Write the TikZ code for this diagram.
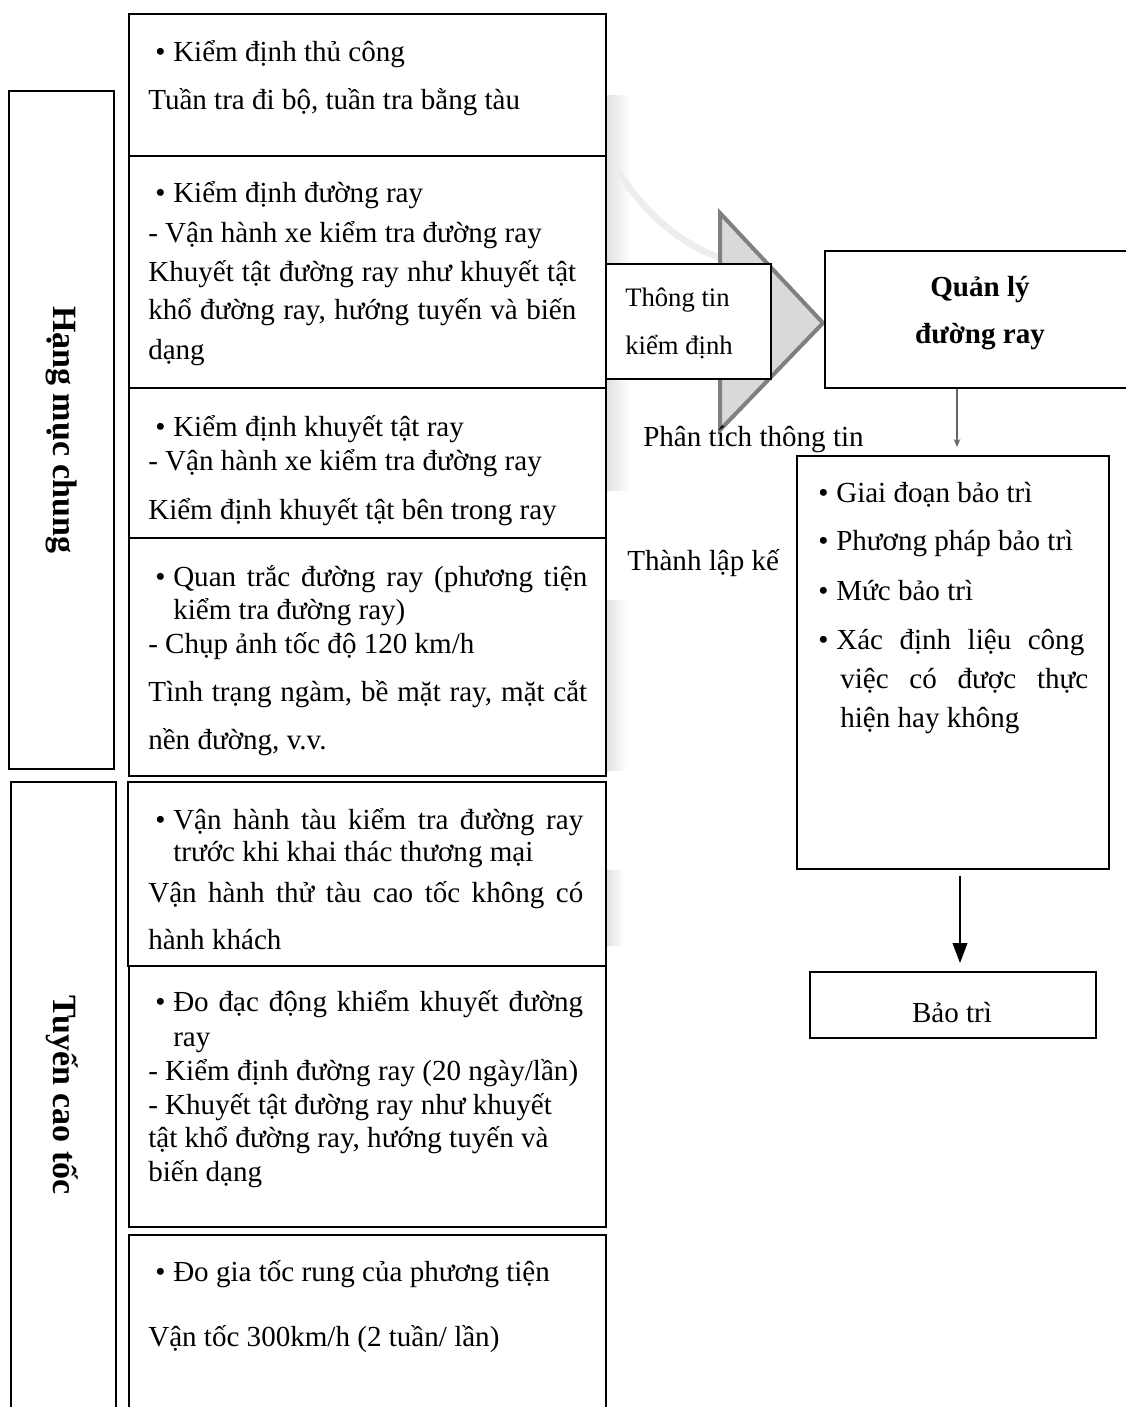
\documentclass[tikz,border=0pt]{standalone}
\usepackage{fontspec}
\setmainfont{Liberation Serif}
\usetikzlibrary{arrows.meta,calc}
\newlength\pxu \setlength\pxu{0.75pt}
\newcommand\bul{\makebox[18\pxu][l]{•}}
\newcommand\jl[2]{\makebox[#1\pxu][s]{#2}}
\begin{document}
\begin{tikzpicture}[x=0.75pt,y=-0.75pt,
  box/.style={draw=black, line width=1.3pt, fill=white, anchor=north west, inner sep=0pt},
  ln/.style={anchor=base west, inner sep=0pt, font=\fontsize{21.8}{26}\selectfont},
  lnc/.style={anchor=base, inner sep=0pt, font=\fontsize{21.8}{26}\selectfont},
  lns/.style={anchor=base west, inner sep=0pt, font=\fontsize{20}{24}\selectfont},
  bold/.style={anchor=base, inner sep=0pt, font=\bfseries\fontsize{21.8}{26}\selectfont},
  side/.style={rotate=-90, inner sep=0pt, font=\bfseries\fontsize{25.5}{30}\selectfont},
  shade/.style={left color=black!12, right color=white, draw=none}]
\useasboundingbox (0,0) rectangle (1126,1407);
\fill[white] (0,0) rectangle (1126,1407);
% faint background shadows
\fill[shade] (606,95) rectangle (630,490);
\fill[shade] (606,600) rectangle (626,770);
\fill[shade] (606,870) rectangle (624,945);
\draw[black!7, line width=5pt] (614,165) .. controls (645,215) and (680,243) .. (720,258);
% big arrow head
\draw[line width=3pt, draw=black!50, fill=black!15, line join=miter] (720,213) -- (823,323) -- (720,430) -- cycle;
% left label boxes
\node[box, minimum width=105\pxu, minimum height=678\pxu] (L1) at (8,90) {};
\node[box, minimum width=105\pxu, minimum height=640\pxu] (L2) at (10,781) {};
\node[side] (t1) at (L1.center) {Hạng mục chung};
\node[side] (t2) at (62,1095) {Tuyến cao tốc};
% middle boxes
\node[box, minimum width=477\pxu, minimum height=142\pxu] (A) at (128,13) {};
\node[box, minimum width=477\pxu, minimum height=232\pxu] (B) at (128,155) {};
\node[box, minimum width=477\pxu, minimum height=150\pxu] (C) at (128,387) {};
\node[box, minimum width=477\pxu, minimum height=238\pxu] (D) at (128,537) {};
\node[box, minimum width=478\pxu, minimum height=184\pxu] (E) at (127,781) {};
\node[box, minimum width=477\pxu, minimum height=261\pxu] (F) at (128,965) {};
\node[box, minimum width=477\pxu, minimum height=200\pxu] (G) at (128,1234) {};
% box A
\node[ln] (a1) at (155,61) {\bul Kiểm định thủ công};
\node[ln] (a2) at (148,109) {Tuần tra đi bộ, tuần tra bằng tàu};
% box B
\node[ln] (b1) at (155,202) {\bul Kiểm định đường ray};
\node[ln] (b2) at (148,242) {- Vận hành xe kiểm tra đường ray};
\node[ln] (b3) at (148,281) {\jl{428}{Khuyết tật đường ray như khuyết tật}};
\node[ln] (b4) at (148,319) {\jl{428}{khổ đường ray, hướng tuyến và biến}};
\node[ln] (b5) at (148,359) {dạng};
% box C
\node[ln] (c1) at (155,436) {\bul Kiểm định khuyết tật ray};
\node[ln] (c2) at (148,470) {- Vận hành xe kiểm tra đường ray};
\node[ln] (c3) at (148,519) {Kiểm định khuyết tật bên trong ray};
% box D
\node[ln] (d1) at (155,586) {\bul\jl{414}{Quan trắc đường ray (phương tiện}};
\node[ln] (d2) at (173,619) {kiểm tra đường ray)};
\node[ln] (d3) at (148,653) {- Chụp ảnh tốc độ 120 km/h};
\node[ln] (d4) at (148,701) {\jl{439}{Tình trạng ngàm, bề mặt ray, mặt cắt}};
\node[ln] (d5) at (148,749) {nền đường, v.v.};
% box E
\node[ln] (e1) at (155,829) {\bul\jl{410}{Vận hành tàu kiểm tra đường ray}};
\node[ln] (e2) at (173,861) {trước khi khai thác thương mại};
\node[ln] (e3) at (148,902) {\jl{435}{Vận hành thử tàu cao tốc không có}};
\node[ln] (e4) at (148,949) {hành khách};
% box F
\node[ln] (f1) at (155,1011) {\bul\jl{410}{Đo đạc động khiểm khuyết đường}};
\node[ln] (f2) at (173,1046) {ray};
\node[ln] (f3) at (148,1080) {- Kiểm định đường ray (20 ngày/lần)};
\node[ln] (f4) at (148,1114) {- Khuyết tật đường ray như khuyết};
\node[ln] (f5) at (148,1147) {tật khổ đường ray, hướng tuyến và};
\node[ln] (f6) at (148,1181) {biến dạng};
% box G
\node[ln] (g1) at (155,1281) {\bul Đo gia tốc rung của phương tiện};
\node[ln] (g2) at (148,1346) {Vận tốc 300km/h (2 tuần/ lần)};
% Thong tin kiem dinh box
\node[box, minimum width=165\pxu, minimum height=115\pxu] (TT) at (605,263) {};
\node[lns] (tt1) at (625,306) {Thông tin};
\node[lns] (tt2) at (625,354) {kiểm định};
% free labels
\node[ln] (pt) at (643,446) {Phân tích thông tin};
\node[ln] (tl) at (627,570) {Thành lập kế};
% Quan ly box
\node[box, minimum width=320\pxu, minimum height=137\pxu] (Q) at (824,250) {};
\node[bold] (q1) at (980,296) {Quản lý};
\node[bold] (q2) at (980,343) {đường ray};
% right box
\node[box, minimum width=312\pxu, minimum height=413\pxu] (R) at (796,455) {};
\node[ln] (r1) at (818,502) {\bul Giai đoạn bảo trì};
\node[ln] (r2) at (818,550) {\bul Phương pháp bảo trì};
\node[ln] (r3) at (818,600) {\bul Mức bảo trì};
\node[ln] (r4) at (818,649) {\bul\jl{248}{Xác định liệu công}};
\node[ln] (r5) at (840,688) {\jl{248}{việc có được thực}};
\node[ln] (r6) at (840,727) {hiện hay không};
% Bao tri box
\node[box, minimum width=286\pxu, minimum height=66\pxu] (BT) at (809,971) {};
\node[lnc] (bt) at (952,1022) {Bảo trì};
% connectors
\coordinate (xa) at (957,0);
\coordinate (xb) at (960,0);
\draw[black!60, line width=0.8pt, -{Stealth[length=6pt,width=5pt]}] (Q.south -| xa) -- ($(R.north -| xa)+(0,-8)$);
\draw[black, line width=1.6pt, -{Triangle[length=15pt,width=11pt]}] ($(R.south -| xb)+(0,6)$) -- ($(BT.north -| xb)+(0,-8)$);
\end{tikzpicture}
\end{document}
